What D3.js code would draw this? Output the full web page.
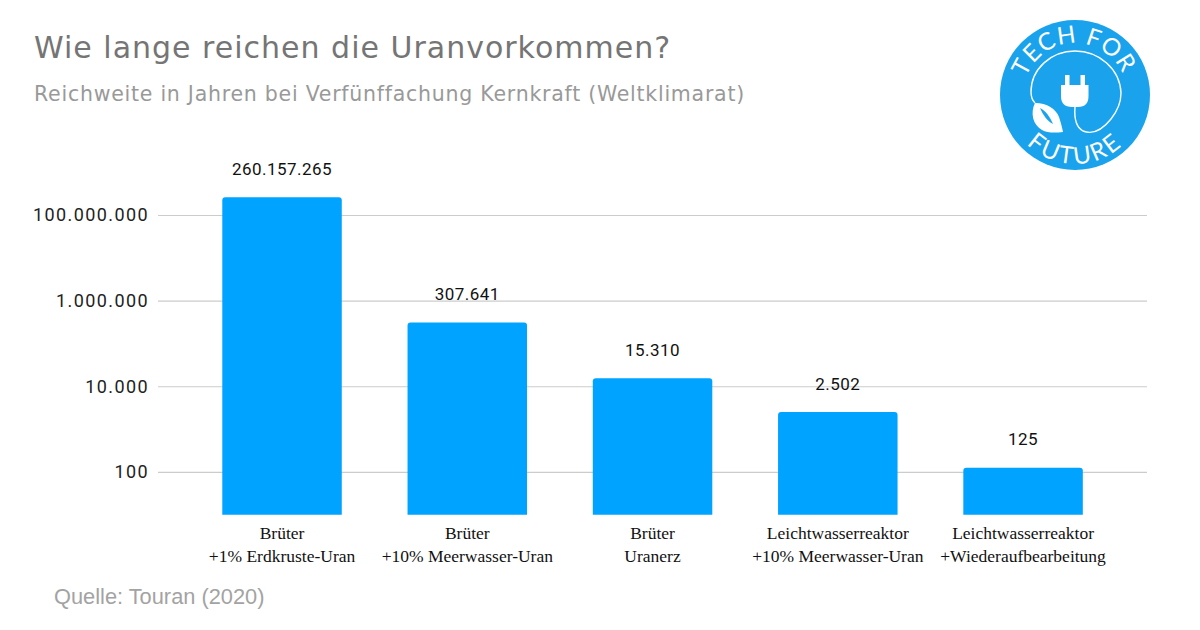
<!DOCTYPE html>
<html>
<head>
<meta charset="utf-8">
<script src="https://cdn.jsdelivr.net/npm/d3@7"></script>
<style>
  body { margin: 0; background: #fff; }
  svg { display: block; }
  .tick text { font-family: Roboto, sans-serif; font-size: 18px; letter-spacing: 1.4px; fill: #222; }
</style>
</head>
<body>
<svg id="chart" width="1200" height="630"></svg>
<script>
const title = 'Wie lange reichen die Uranvorkommen?';
const subtitle = 'Reichweite in Jahren bei Verfünffachung Kernkraft (Weltklimarat)';
const source = 'Quelle: Touran (2020)';
const categories = [
  ['Brüter', '+1% Erdkruste-Uran'],
  ['Brüter', '+10% Meerwasser-Uran'],
  ['Brüter', 'Uranerz'],
  ['Leichtwasserreaktor', '+10% Meerwasser-Uran'],
  ['Leichtwasserreaktor', '+Wiederaufbearbeitung']
];
const values = [260157265, 307641, 15310, 2502, 125];
const yTicks = [100, 10000, 1000000, 100000000];

const svg = d3.select('#chart');
const de = d3.formatLocale({ decimal: ',', thousands: '.', grouping: [3], currency: ['', '€'] });
const fmt = de.format(',d');

const x = d3.scaleBand().domain(d3.range(values.length)).range([189.4, 1115.7]).paddingInner(0.355).paddingOuter(0.1775);
const y = d3.scaleLog().domain([10, 100000000]).range([514.7, 215]);

// title block
svg.append('text').attr('x', 34).attr('y', 58).attr('font-family', 'DejaVu Sans').attr('font-size', 30)
  .attr('letter-spacing', 1).attr('fill', '#757575').text(title);
svg.append('text').attr('x', 34).attr('y', 101).attr('font-family', 'DejaVu Sans').attr('font-size', 20.5)
  .attr('letter-spacing', 0.75).attr('fill', '#999').text(subtitle);
svg.append('text').attr('x', 54).attr('y', 604).attr('font-family', 'Liberation Sans').attr('font-size', 21.8)
  .attr('fill', '#a3a3a3').text(source);

// axis + grid
const yAxis = svg.append('g').attr('transform', 'translate(158,0)')
  .call(d3.axisLeft(y).tickValues(yTicks).tickFormat(fmt).tickSize(0).tickPadding(9));
yAxis.select('.domain').remove();
yAxis.selectAll('.tick line').attr('x2', 989).attr('stroke', '#ccc').attr('stroke-width', 1.2);

// bars
svg.append('g').selectAll('path').data(values).join('path')
  .attr('fill', '#00a3ff')
  .attr('d', (d, i) => {
    const l = x(i), r = l + x.bandwidth(), t = y(d), b = y(10), c = 3;
    return `M${l},${b}V${t + c}Q${l},${t} ${l + c},${t}H${r - c}Q${r},${t} ${r},${t + c}V${b}Z`;
  });

// value labels
svg.append('g').selectAll('text').data(values).join('text')
  .attr('x', (d, i) => x(i) + x.bandwidth() / 2)
  .attr('y', d => y(d) - 22.5)
  .attr('text-anchor', 'middle')
  .attr('font-family', 'Roboto').attr('font-size', 17).attr('letter-spacing', 0.45).attr('fill', '#111')
  .text(fmt);

// category labels
const cat = svg.append('g').selectAll('text').data(categories).join('text')
  .attr('text-anchor', 'middle')
  .attr('font-family', 'Liberation Serif').attr('font-size', 17.5).attr('fill', '#111');
cat.each(function (d, i) {
  d.forEach((line, k) => {
    d3.select(this).append('tspan')
      .attr('x', x(i) + x.bandwidth() / 2)
      .attr('y', 539 + k * 22.5)
      .text(line);
  });
});

// logo
const logo = svg.append('g').attr('transform', 'translate(1075,95)');
logo.append('circle').attr('r', 75).attr('fill', '#1aa3ec');
const defs = svg.append('defs');
defs.append('path').attr('id', 'arcTop').attr('d', 'M-52,0A52,52 0 0 1 52,0');
defs.append('path').attr('id', 'arcBottom').attr('d', 'M-69,0A69,69 0 0 0 69,0');
logo.append('text').attr('font-family', 'Lato').attr('font-size', 24).attr('fill', '#fff')
  .attr('letter-spacing', 1).attr('text-anchor', 'middle')
  .append('textPath').attr('href', '#arcTop').attr('startOffset', '49%').text('TECH FOR');
logo.append('text').attr('font-family', 'Lato').attr('font-size', 24).attr('fill', '#fff')
  .attr('letter-spacing', 2.5).attr('text-anchor', 'middle')
  .append('textPath').attr('href', '#arcBottom').attr('startOffset', '50%').text('FUTURE');

// plug
logo.append('path').attr('fill', '#fff')
  .attr('d', 'M-10,-20H-5.5V-10H5.5V-20H10V-10H13.5V1Q13.5,12 3,12H-3Q-14,12 -14,1V-10H-10Z');
// cord
logo.append('path').attr('fill', 'none').attr('stroke', '#fff').attr('stroke-width', 1.4)
  .attr('d', 'M0,12C-1,24 1,32 8,36C18,40 28,34 36,24C44,14 46,6 46,-2C45,-26 24,-44 0,-44C-24,-44 -44,-26 -44,-3C-44,2 -43,5 -40,8');
// leaf
logo.append('path').attr('fill', '#fff')
  .attr('d', 'M-40,8C-28,8 -19,14 -16,22C-14,28 -13,32 -12,37C-20,38 -28,38 -33,35C-42,30 -45,18 -40,8Z');
logo.append('path').attr('fill', '#1aa3ec')
  .attr('d', 'M-35,13C-29,16 -25,22 -22,29C-28,26 -32,20 -35,13Z');
</script>
</body>
</html>
